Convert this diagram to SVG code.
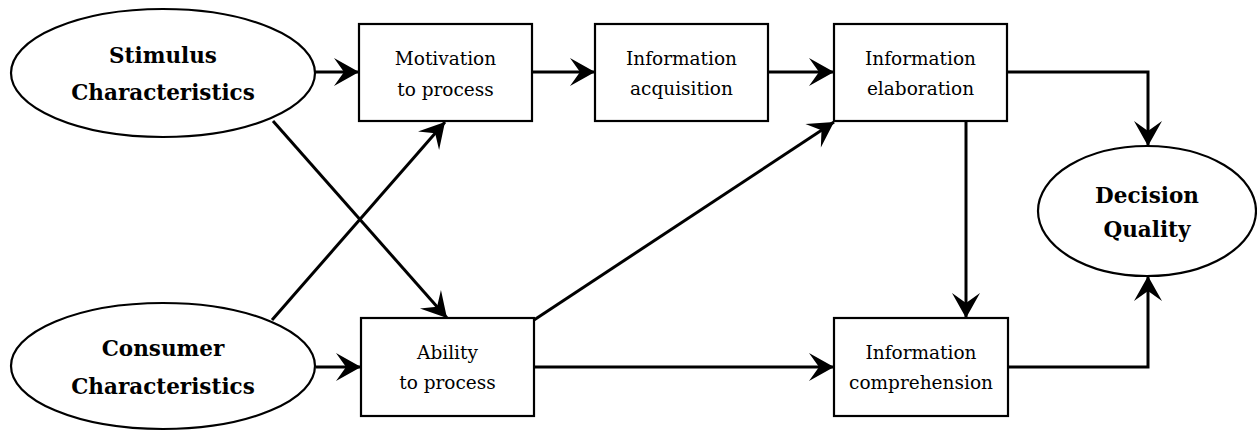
<svg xmlns="http://www.w3.org/2000/svg" width="1257" height="431" viewBox="0 0 1257 431">
<style>
.bg{fill:#fff}
.node{fill:#fff;stroke:#000;stroke-width:2.2}
.bold{font-family:"DejaVu Serif","Liberation Serif",serif;font-weight:bold;font-size:21.5px;fill:#000;text-anchor:middle}
.reg{font-family:"DejaVu Serif","Liberation Serif",serif;font-size:18.5px;fill:#000;text-anchor:middle}
.edge{fill:none;stroke:#000;stroke-width:3;marker-end:url(#arr)}
</style>
<defs>
<marker id="arr" markerUnits="userSpaceOnUse" viewBox="-27 -15 29 30" markerWidth="29" markerHeight="30" refX="0" refY="0" orient="auto">
<path d="M0,0 L-25,-14 L-15,0 L-25,14 Z" fill="#000"/>
</marker>
</defs>
<rect class="bg" x="0" y="0" width="1257" height="431"/>
<g id="connectors">
<path class="edge" d="M315,72 L359,72"/>
<path class="edge" d="M532,72 L595,72"/>
<path class="edge" d="M768,72 L834,72"/>
<path class="edge" d="M1007,72 L1148,72 L1148,146"/>
<path class="edge" d="M966,121 L966,318"/>
<path class="edge" d="M1008,367 L1148,367 L1148,276"/>
<path class="edge" d="M316,367 L361,367"/>
<path class="edge" d="M534,367 L834,367"/>
<path class="edge" d="M273,121 L447,318"/>
<path class="edge" d="M272,320 L445,122"/>
<path class="edge" d="M534,320 L834,122"/>
</g>
<g id="stimulus">
<ellipse class="node" cx="163" cy="73" rx="152" ry="64"/>
<text class="bold" x="163" y="63">Stimulus</text>
<text class="bold" x="163" y="100">Characteristics</text>
</g>
<g id="consumer">
<ellipse class="node" cx="163" cy="366" rx="152" ry="63"/>
<text class="bold" x="163" y="356">Consumer</text>
<text class="bold" x="163" y="394">Characteristics</text>
</g>
<g id="motivation">
<rect class="node" x="359" y="24" width="173" height="97"/>
<text class="reg" x="445.5" y="65">Motivation</text>
<text class="reg" x="445.5" y="96">to process</text>
</g>
<g id="acquisition">
<rect class="node" x="595" y="24" width="173" height="97"/>
<text class="reg" x="681.5" y="65">Information</text>
<text class="reg" x="681.5" y="95">acquisition</text>
</g>
<g id="elaboration">
<rect class="node" x="834" y="24" width="173" height="97"/>
<text class="reg" x="920.5" y="65">Information</text>
<text class="reg" x="920.5" y="95">elaboration</text>
</g>
<g id="ability">
<rect class="node" x="361" y="318" width="173" height="98"/>
<text class="reg" x="447.5" y="359">Ability</text>
<text class="reg" x="447.5" y="389">to process</text>
</g>
<g id="comprehension">
<rect class="node" x="834" y="318" width="174" height="98"/>
<text class="reg" x="921" y="359">Information</text>
<text class="reg" x="921" y="389">comprehension</text>
</g>
<g id="decision">
<ellipse class="node" cx="1147" cy="211" rx="109" ry="65"/>
<text class="bold" x="1147" y="203">Decision</text>
<text class="bold" x="1147" y="237">Quality</text>
</g>
</svg>
